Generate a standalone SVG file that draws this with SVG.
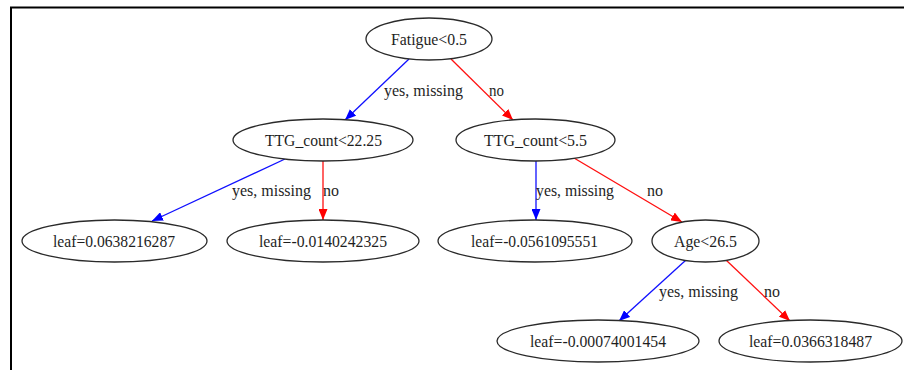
<svg xmlns="http://www.w3.org/2000/svg" width="904" height="370" viewBox="0 0 904 370">
  <style>
    .node ellipse { fill: #ffffff; stroke: #2a2a2a; stroke-width: 1.3; }
    .node text { font-family: "Liberation Serif", "Times New Roman", serif; font-size: 17.5px; fill: #1e1e1e; text-anchor: middle; }
    .lbl { font-family: "Liberation Serif", "Times New Roman", serif; font-size: 17.5px; fill: #1e1e1e; }
    .yes { stroke: #1010ff; stroke-width: 1.3; fill: none; }
    .no { stroke: #ff1010; stroke-width: 1.3; fill: none; }
  </style>
  <defs>
    <marker id="ah-blue" viewBox="0 0 11 9" refX="11" refY="4.5" markerWidth="11" markerHeight="9" markerUnits="userSpaceOnUse" orient="auto">
      <path d="M0,0 L11,4.5 L0,9 Z" fill="#0000ff"/>
    </marker>
    <marker id="ah-red" viewBox="0 0 11 9" refX="11" refY="4.5" markerWidth="11" markerHeight="9" markerUnits="userSpaceOnUse" orient="auto">
      <path d="M0,0 L11,4.5 L0,9 Z" fill="#ff0000"/>
    </marker>
  </defs>

  <rect width="904" height="370" fill="#ffffff"/>
  <!-- frame -->
  <path d="M11,370 L11,7.5 L904,7.5" fill="none" stroke="#000000" stroke-width="2"/>

  <g id="edges">
    <line class="yes" x1="409" y1="59" x2="345" y2="120" marker-end="url(#ah-blue)"/>
    <line class="no" x1="451" y1="59" x2="513" y2="120" marker-end="url(#ah-red)"/>
    <line class="yes" x1="285" y1="159" x2="152" y2="221" marker-end="url(#ah-blue)"/>
    <line class="no" x1="323" y1="161" x2="323" y2="220" marker-end="url(#ah-red)"/>
    <line class="yes" x1="536" y1="161" x2="536" y2="220" marker-end="url(#ah-blue)"/>
    <line class="no" x1="574" y1="158" x2="682" y2="222" marker-end="url(#ah-red)"/>
    <line class="yes" x1="686" y1="260" x2="619" y2="321" marker-end="url(#ah-blue)"/>
    <line class="no" x1="726" y1="260" x2="790" y2="321" marker-end="url(#ah-red)"/>
    <text class="lbl" x="384" y="96" textLength="79" lengthAdjust="spacingAndGlyphs">yes, missing</text>
    <text class="lbl" x="489" y="96" textLength="15" lengthAdjust="spacingAndGlyphs">no</text>
    <text class="lbl" x="232" y="196" textLength="79" lengthAdjust="spacingAndGlyphs">yes, missing</text>
    <text class="lbl" x="323" y="196" textLength="16" lengthAdjust="spacingAndGlyphs">no</text>
    <text class="lbl" x="536" y="196" textLength="78" lengthAdjust="spacingAndGlyphs">yes, missing</text>
    <text class="lbl" x="647" y="196" textLength="16" lengthAdjust="spacingAndGlyphs">no</text>
    <text class="lbl" x="659" y="297" textLength="79" lengthAdjust="spacingAndGlyphs">yes, missing</text>
    <text class="lbl" x="764" y="297" textLength="16" lengthAdjust="spacingAndGlyphs">no</text>
  </g>

  <g id="n-fatigue" class="node">
    <ellipse cx="429" cy="39" rx="63" ry="21"/>
    <text x="429" y="45" textLength="76" lengthAdjust="spacingAndGlyphs">Fatigue&lt;0.5</text>
  </g>
  <g id="n-ttg-22" class="node">
    <ellipse cx="323" cy="140" rx="90" ry="21"/>
    <text x="323.5" y="146" textLength="117" lengthAdjust="spacingAndGlyphs">TTG_count&lt;22.25</text>
  </g>
  <g id="n-ttg-5" class="node">
    <ellipse cx="535.5" cy="140" rx="79.5" ry="21"/>
    <text x="535.5" y="146" textLength="103" lengthAdjust="spacingAndGlyphs">TTG_count&lt;5.5</text>
  </g>
  <g id="leaf-1" class="node">
    <ellipse cx="114.5" cy="241" rx="92.5" ry="21"/>
    <text x="114" y="247" textLength="122" lengthAdjust="spacingAndGlyphs">leaf=0.0638216287</text>
  </g>
  <g id="leaf-2" class="node">
    <ellipse cx="323" cy="241" rx="96" ry="21"/>
    <text x="323" y="247" textLength="128" lengthAdjust="spacingAndGlyphs">leaf=-0.0140242325</text>
  </g>
  <g id="leaf-3" class="node">
    <ellipse cx="535" cy="241" rx="97" ry="21"/>
    <text x="534.5" y="247" textLength="127" lengthAdjust="spacingAndGlyphs">leaf=-0.0561095551</text>
  </g>
  <g id="n-age" class="node">
    <ellipse cx="705.5" cy="241" rx="53.5" ry="21"/>
    <text x="705.5" y="247" textLength="63" lengthAdjust="spacingAndGlyphs">Age&lt;26.5</text>
  </g>
  <g id="leaf-4" class="node">
    <ellipse cx="598" cy="341" rx="101" ry="21"/>
    <text x="598" y="347" textLength="136" lengthAdjust="spacingAndGlyphs">leaf=-0.00074001454</text>
  </g>
  <g id="leaf-5" class="node">
    <ellipse cx="810.5" cy="341" rx="91.5" ry="21"/>
    <text x="810.5" y="347" textLength="123" lengthAdjust="spacingAndGlyphs">leaf=0.0366318487</text>
  </g>
</svg>
